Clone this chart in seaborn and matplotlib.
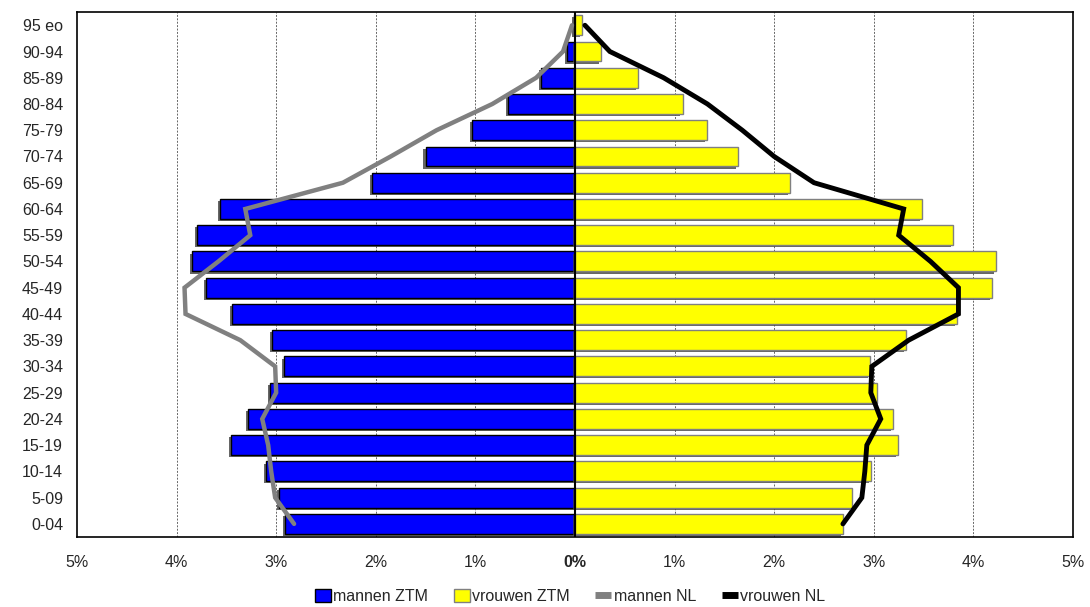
import matplotlib
matplotlib.use("Agg")
import matplotlib.pyplot as plt
import matplotlib.patheffects as pe
from matplotlib.patches import Patch
from matplotlib.lines import Line2D
import seaborn as sns
import pandas as pd

# leeftijdsgroepen, van jong naar oud
leeftijd = ["0-04", "5-09", "10-14", "15-19", "20-24", "25-29", "30-34", "35-39",
            "40-44", "45-49", "50-54", "55-59", "60-64", "65-69", "70-74", "75-79",
            "80-84", "85-89", "90-94", "95 eo"]

# aandeel in procenten
mannen_ztm = [2.91, 2.97, 3.10, 3.45, 3.28, 3.06, 2.92, 3.04, 3.44, 3.70,
              3.84, 3.79, 3.56, 2.04, 1.50, 1.03, 0.67, 0.34, 0.08, 0.01]
vrouwen_ztm = [2.69, 2.78, 2.97, 3.24, 3.19, 3.03, 2.96, 3.32, 3.84, 4.19,
               4.23, 3.80, 3.48, 2.16, 1.64, 1.33, 1.08, 0.63, 0.26, 0.07]
mannen_nl = [2.82, 3.01, 3.05, 3.08, 3.14, 3.00, 3.01, 3.36, 3.91, 3.92,
             3.58, 3.26, 3.31, 2.33, 1.85, 1.39, 0.83, 0.39, 0.12, 0.03]
vrouwen_nl = [2.69, 2.88, 2.91, 2.93, 3.07, 2.97, 2.98, 3.35, 3.85, 3.85,
              3.57, 3.25, 3.30, 2.40, 2.00, 1.68, 1.33, 0.89, 0.35, 0.10]

volgorde = leeftijd[::-1]  # oudste bovenaan

df = pd.DataFrame({
    "leeftijd": leeftijd * 2,
    "waarde": [-v for v in mannen_ztm] + vrouwen_ztm,
    "groep": ["mannen ZTM"] * len(leeftijd) + ["vrouwen ZTM"] * len(leeftijd),
})

sns.set_style("white")
plt.rcParams["font.family"] = ["Liberation Sans", "DejaVu Sans"]

fig = plt.figure(figsize=(10.9, 6.07), dpi=100)
ax = fig.add_axes([0.0706, 0.1153, 0.9138, 0.8647])

sns.barplot(data=df[df.groep == "mannen ZTM"], x="waarde", y="leeftijd", order=volgorde,
            color="#0000FF", saturation=1, edgecolor="black", linewidth=1, width=0.76, ax=ax)
sns.barplot(data=df[df.groep == "vrouwen ZTM"], x="waarde", y="leeftijd", order=volgorde,
            color="#FFFF00", saturation=1, edgecolor="#808080", linewidth=1, width=0.76, ax=ax)

for p in ax.patches:
    p.set_path_effects([pe.SimplePatchShadow(offset=(-1.5, -1.5), shadow_rgbFace="#404040", alpha=0.8),
                        pe.Normal()])

# lijnen voor Nederland
pos = [volgorde.index(l) for l in leeftijd]
ax.plot([-v for v in mannen_nl], pos, color="#808080", lw=3.2, solid_joinstyle="miter", zorder=5)
ax.plot(vrouwen_nl, pos, color="black", lw=3.5, solid_joinstyle="miter", zorder=5)

ax.set_xlim(-5, 5)
ax.set_ylim(len(volgorde) - 0.5, -0.5)
ax.set_xticks(range(-5, 6))
ax.set_xticklabels([f"{abs(t)}%" for t in range(-5, 6)])
for lbl in ax.get_xticklabels():
    if lbl.get_text() == "0%":
        lbl.set_fontweight("bold")
ax.tick_params(axis="x", labelsize=11.5, pad=13, length=0)
ax.tick_params(axis="y", labelsize=11.5, pad=10, length=0)
ax.set_xlabel("")
ax.set_ylabel("")

for t in [-4, -3, -2, -1, 1, 2, 3, 4]:
    ax.axvline(t, color="#666666", lw=0.7, ls=(0, (2, 1.5)), zorder=0)
ax.axvline(0, color="black", lw=1.5, zorder=4)

for s in ax.spines.values():
    s.set_color("black")
    s.set_linewidth(1.2)
    s.set_visible(True)

handles = [Patch(facecolor="#0000FF", edgecolor="black", label="mannen ZTM"),
           Patch(facecolor="#FFFF00", edgecolor="#808080", label="vrouwen ZTM"),
           Line2D([], [], color="#808080", lw=5, solid_capstyle="butt", label="mannen NL"),
           Line2D([], [], color="black", lw=5, solid_capstyle="butt", label="vrouwen NL")]
fig.legend(handles=handles, loc="center", bbox_to_anchor=(0.523, 0.017), ncol=4, frameon=False,
           fontsize=11.5, handlelength=1.0, handleheight=0.9, handletextpad=0.15, columnspacing=1.6)

fig.savefig("out.png", dpi=100)
